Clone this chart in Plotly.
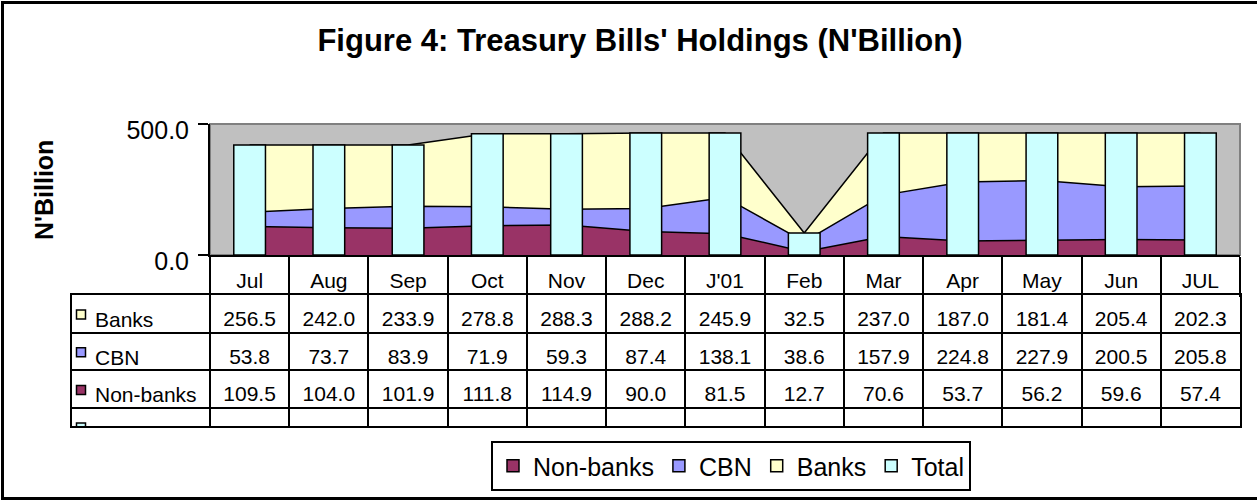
import plotly.graph_objects as go

# ---------------- data ----------------
months = ["Jul", "Aug", "Sep", "Oct", "Nov", "Dec", "J'01", "Feb", "Mar", "Apr", "May", "Jun", "JUL"]
banks = [256.5, 242.0, 233.9, 278.8, 288.3, 288.2, 245.9, 32.5, 237.0, 187.0, 181.4, 205.4, 202.3]
cbn = [53.8, 73.7, 83.9, 71.9, 59.3, 87.4, 138.1, 38.6, 157.9, 224.8, 227.9, 200.5, 205.8]
non_banks = [109.5, 104.0, 101.9, 111.8, 114.9, 90.0, 81.5, 12.7, 70.6, 53.7, 56.2, 59.6, 57.4]
total = [419.8, 419.7, 419.7, 462.5, 462.5, 465.6, 465.5, 83.8, 465.5, 465.5, 465.5, 465.5, 465.5]
y_tick_values = [0, 500]
table_rows = ["Banks", "CBN", "Non-banks"]

# ---------------- style / layout constants ----------------
FONT = "Arial, 'Liberation Sans', sans-serif"
W, H = 1257, 500
C_NONBANK = "#993366"
C_CBN = "#9999FF"
C_BANKS = "#FFFFCC"
C_TOTAL = "#CCFFFF"
GRAY = "#C0C0C0"

PLOT_X0, PLOT_X1, PLOT_Y0, PLOT_Y1 = 210, 1240, 124, 255
TAB_X0, TAB_Y0, TAB_Y1 = 72, 295, 426
ROW_H = 37.7
TEXT_FRAC = 0.68
KEY_FRAC = 0.517

n = len(months)
idx = list(range(n))
unit = (PLOT_X1 - PLOT_X0) / n
x3_left = -0.5 - (PLOT_X0 - TAB_X0) / unit
rows_span = (TAB_Y1 - TAB_Y0) / ROW_H
label_x = x3_left + 23 / unit
key_x = x3_left + 9 / unit

fig = go.Figure()

# stacked areas
for name, vals, col in [("Non-banks", non_banks, C_NONBANK), ("CBN", cbn, C_CBN), ("Banks", banks, C_BANKS)]:
    fig.add_trace(go.Scatter(
        x=idx, y=vals, name=name, stackgroup="s", mode="lines",
        line=dict(color="black", width=1.5), fillcolor=col,
        showlegend=False, hoverinfo="skip", xaxis="x", yaxis="y"))

# legend entries for area series (square keys)
for name, col in [("Non-banks", C_NONBANK), ("CBN", C_CBN), ("Banks", C_BANKS)]:
    fig.add_trace(go.Bar(
        x=[None], y=[None], name=name,
        marker=dict(color=col, line=dict(color="black", width=1.5)),
        xaxis="x", yaxis="y"))

# total bars (on overlay axis so they sit above areas)
fig.add_trace(go.Bar(
    x=idx, y=total, name="Total", width=0.4,
    marker=dict(color=C_TOTAL, line=dict(color="black", width=1.5)),
    hoverinfo="skip", xaxis="x", yaxis="y2"))

# data table text
for r, (lab, vals) in enumerate(zip(table_rows, [banks, cbn, non_banks])):
    fig.add_trace(go.Scatter(
        x=idx, y=[r + TEXT_FRAC] * n, text=[f"{v:.1f}" for v in vals],
        mode="text", textposition="middle center",
        textfont=dict(family=FONT, size=21, color="black"),
        showlegend=False, hoverinfo="skip", xaxis="x3", yaxis="y3"))

fig.add_trace(go.Scatter(
    x=[label_x] * len(table_rows), y=[r + TEXT_FRAC + 0.03 for r in range(len(table_rows))],
    text=table_rows, mode="text", textposition="middle right",
    textfont=dict(family=FONT, size=21, color="black"),
    showlegend=False, hoverinfo="skip", xaxis="x3", yaxis="y3"))

fig.add_trace(go.Scatter(
    x=[key_x] * 4, y=[r + KEY_FRAC for r in range(4)], mode="markers",
    marker=dict(symbol="square", size=9, color=[C_BANKS, C_CBN, C_NONBANK, C_TOTAL],
                line=dict(color="black", width=1.5)),
    showlegend=False, hoverinfo="skip", xaxis="x3", yaxis="y3"))

fig.update_layout(
    template="none",
    width=W, height=H,
    margin=dict(l=0, r=0, t=0, b=0, pad=0),
    paper_bgcolor="white", plot_bgcolor="white",
    font=dict(family=FONT, color="black"),
    barmode="overlay",
    hovermode=False,
    title=dict(text="Figure 4: Treasury Bills' Holdings (N'Billion)",
               font=dict(family=FONT, size=31, color="black", weight="bold"),
               x=640 / W, xanchor="center", xref="paper",
               y=1 - 40 / H, yanchor="middle", yref="container"),
    xaxis=dict(domain=[PLOT_X0 / W, PLOT_X1 / W], range=[-0.5, n - 0.5], anchor="y",
               tickmode="array", tickvals=idx, ticktext=months, ticks="",
               tickfont=dict(family=FONT, size=21, color="black"), ticklabelstandoff=6,
               showline=True, linecolor="black", linewidth=2,
               showgrid=False, zeroline=False, automargin=False,
               minor=dict(tickmode="array", tickvals=[i - 0.5 for i in range(n + 1)],
                          ticks="outside", ticklen=40, tickwidth=2, tickcolor="black",
                          showgrid=False)),
    yaxis=dict(domain=[1 - PLOT_Y1 / H, 1 - PLOT_Y0 / H], range=[0, 500], anchor="x",
               tickmode="array", tickvals=y_tick_values, tickformat=".1f",
               ticks="outside", ticklen=10, tickwidth=2, tickcolor="black",
               tickfont=dict(family=FONT, size=25, color="black"),
               ticklabelstandoff=4, ticklabelshift=6,
               showline=True, linecolor="black", linewidth=2,
               showgrid=False, zeroline=False, automargin=False),
    yaxis2=dict(overlaying="y", range=[0, 500], anchor="x", visible=False),
    xaxis3=dict(domain=[TAB_X0 / W, PLOT_X1 / W], range=[x3_left, n - 0.5], anchor="y3",
                tickmode="array", tickvals=[i - 0.5 for i in range(n)],
                showticklabels=False, ticks="",
                showgrid=True, gridcolor="black", gridwidth=2,
                showline=True, mirror=True, linecolor="black", linewidth=2,
                zeroline=False, automargin=False),
    yaxis3=dict(domain=[1 - TAB_Y1 / H, 1 - TAB_Y0 / H], range=[rows_span, 0], anchor="x3",
                tickmode="array", tickvals=[1, 2, 3],
                showticklabels=False, ticks="",
                showgrid=True, gridcolor="black", gridwidth=2,
                showline=True, mirror=True, linecolor="black", linewidth=2,
                zeroline=False, automargin=False),
    legend=dict(orientation="h", x=731 / W, xanchor="center", y=1 - 466 / H, yanchor="middle",
                bordercolor="black", borderwidth=2, bgcolor="white",
                font=dict(family=FONT, size=25, color="black"), traceorder="normal"),
    annotations=[dict(text="<b>N'Billion</b>", textangle=-90, x=44 / W, y=1 - 190 / H,
                      xref="paper", yref="paper", xanchor="center", yanchor="middle",
                      showarrow=False, font=dict(family=FONT, size=25, color="black"))],
    shapes=[
        dict(type="rect", xref="x domain", yref="y domain", x0=0, x1=1, y0=0, y1=1,
             fillcolor=GRAY, line=dict(color="#808080", width=2), layer="below"),
        dict(type="rect", xref="paper", yref="paper", x0=2.5 / W, x1=1.01,
             y0=1 - 498.5 / H, y1=1 - 2.5 / H, line=dict(color="black", width=3),
             fillcolor="rgba(0,0,0,0)", layer="above"),
    ],
)

fig.write_html("out.html", config={"displayModeBar": False},
               post_script="document.body.style.margin='0';document.body.style.overflow='hidden';")
